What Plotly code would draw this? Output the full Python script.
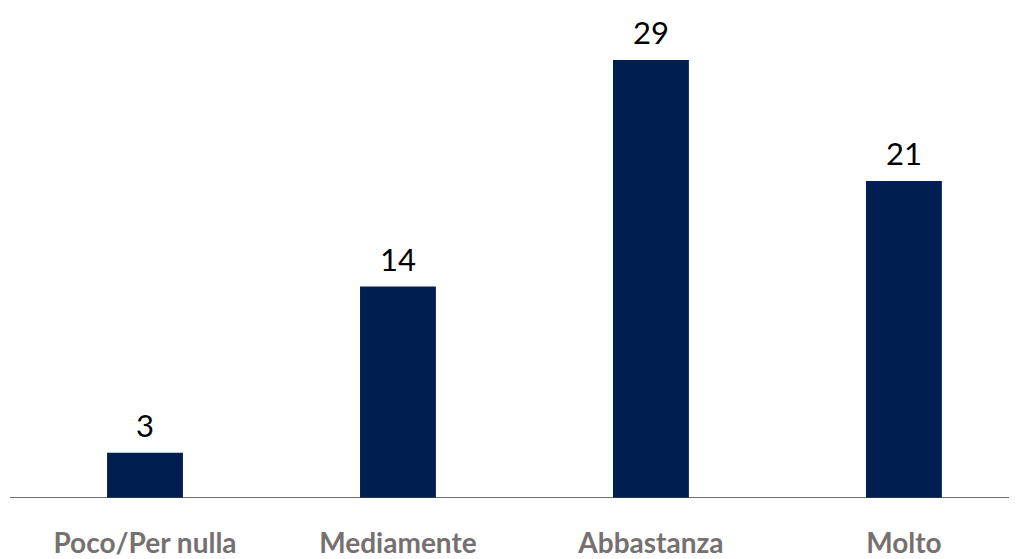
import plotly.graph_objects as go

categories = ["Poco/Per nulla", "Mediamente", "Abbastanza", "Molto"]
values = [3, 14, 29, 21]

fig = go.Figure()
fig.add_trace(go.Bar(
    x=list(range(len(categories))), y=values,
    width=0.30, marker=dict(color="#001F50", line=dict(width=0)),
    hoverinfo="skip",
))
for i, v in enumerate(values):
    fig.add_annotation(x=i, y=v, text=str(v), showarrow=False,
                       yanchor="middle", yshift=28,
                       font=dict(family="Lato", size=31, color="#000000"))

fig.update_layout(
    width=1009, height=551,
    margin=dict(l=2, r=0, t=0, b=61),
    plot_bgcolor="white", paper_bgcolor="white",
    showlegend=False,
    xaxis=dict(range=[-0.5336, 3.447], tickmode="array",
               tickvals=list(range(len(categories))), ticktext=categories,
               showgrid=False, zeroline=False, showline=False, ticks="",
               automargin=False, ticklabelstandoff=26,
               tickfont=dict(family="Lato", size=28, color="#767171", weight="bold")),
    yaxis=dict(range=[0, 32.45], visible=False, showgrid=False, zeroline=False,
               automargin=False),
)
fig.add_shape(type="line", xref="paper", yref="y", x0=0, x1=1, y0=0, y1=0,
              line=dict(color="#404040", width=1.5))
fig.write_html("out.html")
